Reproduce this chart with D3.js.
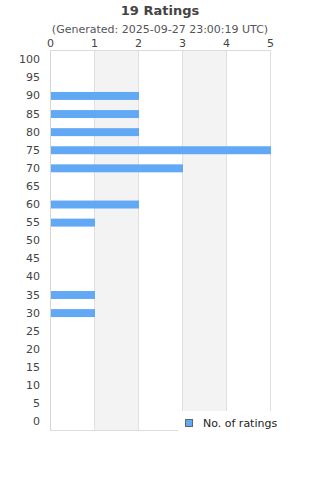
<!DOCTYPE html>
<html>
<head>
<meta charset="utf-8">
<script src="https://cdn.jsdelivr.net/npm/d3@7"></script>
<style>
  body { margin: 0; background: #fff; }
  text { font-family: "DejaVu Sans", sans-serif; }
</style>
</head>
<body>
<div id="chart"></div>
<script>
let width = 320;
let height = 480;
let margins = { top: 50, right: 50, bottom: 50, left: 50 };

// ratings (y categories) and counts
let ratings = [100, 95, 90, 85, 80, 75, 70, 65, 60, 55, 50, 45, 40, 35, 30, 25, 20, 15, 10, 5, 0];
let counts = [0, 0, 2, 2, 2, 5, 3, 0, 2, 1, 0, 0, 0, 1, 1, 0, 0, 0, 0, 0, 0];
let xTicks = [0, 1, 2, 3, 4, 5];

let data = ratings.map(function (r, i) {
	return { rating: r, count: counts[i] };
});

var svg = d3.select("#chart")
	.append("svg")
	.attr("width", width)
	.attr("height", height);

var x = d3.scaleLinear().domain([0, 5]).range([margins.left, width - margins.right]);
var y = d3.scaleBand()
	.domain(ratings.map(String))
	.range([margins.top, height - margins.bottom])
	.paddingInner(0.56)
	.paddingOuter(0.28)
	.align(0.57);

// alternating bands
svg.selectAll("rect.band")
	.data(xTicks.slice(0, -1).filter(function (d) { return d % 2 === 1; }))
	.enter()
	.append("rect")
	.attr("class", "band")
	.attr("x", function (d) { return x(d); })
	.attr("y", margins.top)
	.attr("width", function (d) { return x(d + 1) - x(d); })
	.attr("height", height - margins.bottom - margins.top)
	.attr("fill", "#f3f3f3");

// gridlines
svg.selectAll("line.grid")
	.data(xTicks)
	.enter()
	.append("line")
	.attr("class", "grid")
	.attr("x1", function (d) { return x(d) + 0.5; })
	.attr("x2", function (d) { return x(d) + 0.5; })
	.attr("y1", margins.top)
	.attr("y2", height - margins.bottom)
	.attr("stroke", function (d) { return d === 0 ? "#d6d6d6" : "#e0e0e0"; })
	.attr("stroke-width", 1);

// frame top and bottom
[margins.top, height - margins.bottom].forEach(function (yy) {
	svg.append("line")
		.attr("x1", x(0))
		.attr("x2", x(5) + 1)
		.attr("y1", yy + 0.5)
		.attr("y2", yy + 0.5)
		.attr("stroke", "#dcdcdc");
});

// bars
svg.selectAll("rect.bar")
	.data(data.filter(function (d) { return d.count > 0; }))
	.enter()
	.append("rect")
	.attr("class", "bar")
	.attr("x", x(0) + 1)
	.attr("y", function (d) { return y(String(d.rating)); })
	.attr("width", function (d) { return x(d.count) - x(0); })
	.attr("height", y.bandwidth())
	.attr("fill", "#61a9f4");

// x axis on top
var xAxis = svg.append("g")
	.attr("transform", "translate(0," + margins.top + ")")
	.call(d3.axisTop(x).tickValues(xTicks).tickSize(0).tickPadding(3).tickFormat(d3.format("d")));
xAxis.select(".domain").remove();
xAxis.selectAll("text")
	.attr("fill", "#444")
	.style("font-size", "11px");

// y axis
var yAxis = svg.append("g")
	.attr("transform", "translate(" + (margins.left - 10) + ",0)")
	.call(d3.axisLeft(y).tickSize(0).tickPadding(0));
yAxis.select(".domain").remove();
yAxis.selectAll("text")
	.attr("fill", "#444")
	.style("font-size", "11px");

// title
svg.append("text")
	.attr("x", width / 2)
	.attr("y", 15)
	.attr("text-anchor", "middle")
	.attr("font-weight", "bold")
	.attr("fill", "#444")
	.style("font-size", "13px")
	.text("19 Ratings");

svg.append("text")
	.attr("x", 160)
	.attr("y", 33)
	.attr("text-anchor", "middle")
	.attr("fill", "#555")
	.style("font-size", "11px")
	.text("(Generated: 2025-09-27 23:00:19 UTC)");

// legend
var legend = svg.append("g").attr("transform", "translate(178,411)");
legend.append("rect")
	.attr("width", 120)
	.attr("height", 30)
	.attr("fill", "#fff");
legend.append("rect")
	.attr("x", 7.5)
	.attr("y", 8.5)
	.attr("width", 7)
	.attr("height", 7)
	.attr("fill", "#61a9f4")
	.attr("stroke", "#666");
legend.append("text")
	.attr("x", 25)
	.attr("y", 15.5)
	.attr("fill", "#222")
	.style("font-size", "11px")
	.text("No. of ratings");
</script>
</body>
</html>
